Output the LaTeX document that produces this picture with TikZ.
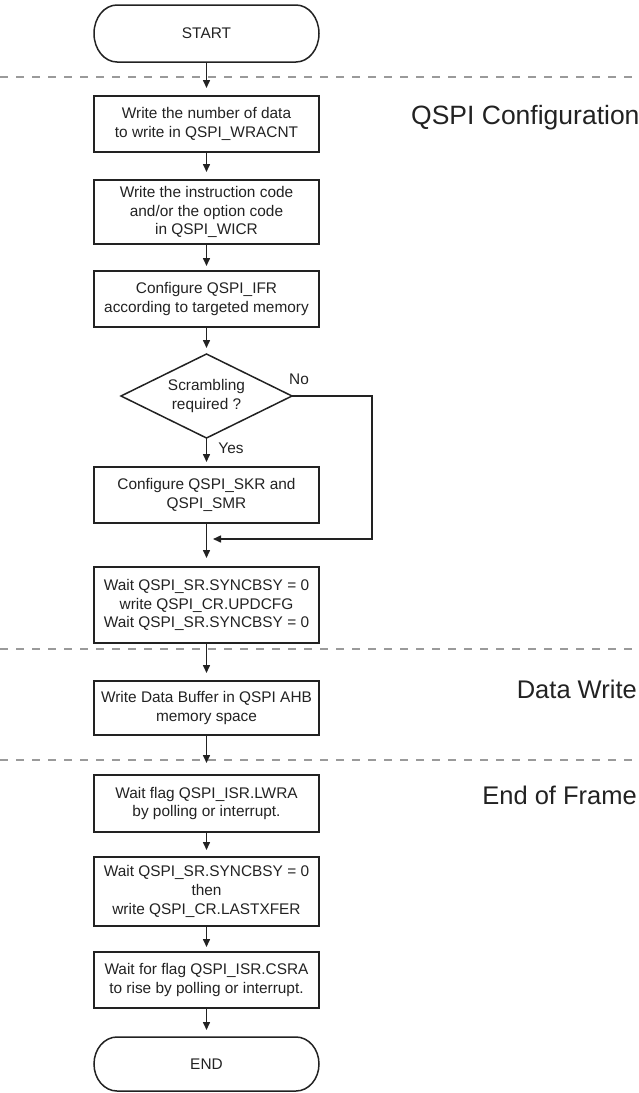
\documentclass[tikz,border=0pt]{standalone}
\usepackage{fontspec}
\setmainfont{Liberation Sans}
\usetikzlibrary{arrows.meta,shapes.geometric}
\definecolor{ink}{HTML}{222222}
\definecolor{sep}{HTML}{9A9A9A}
\tikzset{
  boxnode/.style={draw=ink, line width=1.5pt, minimum width=225pt, inner sep=0pt, outer sep=0pt,
    align=center, text=ink, font=\fontsize{15.4}{18.8}\selectfont},
  termnode/.style={minimum width=225pt, inner sep=0pt, outer sep=0pt, text=ink,
    font=\fontsize{15.4}{18.8}\selectfont},
  termline/.style={draw=ink, line width=1.5pt},
  decnode/.style={draw=ink, line width=1.5pt, shape=diamond, aspect=2.04, minimum width=171pt,
    minimum height=84pt, inner sep=0pt, outer sep=0pt, align=center, text=ink,
    font=\fontsize{15.4}{18.8}\selectfont},
  flow/.style={draw=ink, line width=1.5pt, -{Triangle[length=8pt,width=7pt]}, shorten >=6pt},
  sepline/.style={draw=sep, line width=1.8pt, dash pattern=on 8pt off 8pt},
  lbl/.style={text=ink, font=\fontsize{15.4}{18.8}\selectfont, inner sep=0pt},
  phase/.style={text=ink, font=\fontsize{25.5}{30}\selectfont, inner sep=0pt, anchor=east},
}
\begin{document}
\begin{tikzpicture}[x=1pt, y=-1pt]
\useasboundingbox (0,0) rectangle (639,1093);
% separators
\coordinate (s1l) at (0,77);   \coordinate (s1r) at (639,77);
\coordinate (s2l) at (0,649);  \coordinate (s2r) at (639,649);
\coordinate (s3l) at (0,760);  \coordinate (s3r) at (639,760);
\draw[sepline] (s1l) -- (s1r);
\draw[sepline] (s2l) -- (s2r);
\draw[sepline] (s3l) -- (s3r);
% phase labels
\node[phase, anchor=west, font=\fontsize{26.5}{30}\selectfont] (p1) at (411,117.5) {QSPI Configuration};
\node[phase] (p2) at (637,689) {Data Write};
\node[phase] (p3) at (637,795) {End of Frame};
% start
\node[termnode, minimum height=57pt] (start) at (206.5,33.5) {START};
\draw[termline] ([xshift=23pt]start.north west) -- ([xshift=-23pt]start.north east)
  arc[start angle=90, end angle=-90, x radius=23pt, y radius=28.5pt]
  -- ([xshift=23pt]start.south west)
  arc[start angle=270, end angle=90, x radius=23pt, y radius=28.5pt] -- cycle;
% boxes
\node[boxnode, minimum height=56pt] (b1) at (206.5,124) {Write the number of data\\to write in QSPI\_WRACNT};
\node[boxnode, minimum height=64pt] (b2) at (206.5,212) {Write the instruction code\\and/or the option code\\in QSPI\_WICR};
\node[boxnode, minimum height=56pt] (b3) at (206.5,299) {Configure QSPI\_IFR\\according to targeted memory};
\node[decnode] (d) at (206.5,396) {Scrambling\\required ?};
\node[boxnode, minimum height=56pt] (b4) at (206.5,495) {Configure QSPI\_SKR and\\QSPI\_SMR};
\node[boxnode, minimum height=76pt] (b5) at (206.5,605) {Wait QSPI\_SR.SYNCBSY = 0\\write QSPI\_CR.UPDCFG\\Wait QSPI\_SR.SYNCBSY = 0};
\node[boxnode, minimum height=54pt] (b6) at (206.5,708) {Write Data Buffer in QSPI AHB\\memory space};
\node[boxnode, minimum height=57pt] (b7) at (206.5,803.5) {Wait flag QSPI\_ISR.LWRA\\by polling or interrupt.};
\node[boxnode, minimum height=69pt] (b8) at (206.5,891.5) {Wait QSPI\_SR.SYNCBSY = 0\\then\\write QSPI\_CR.LASTXFER};
\node[boxnode, minimum height=56pt] (b9) at (206.5,980) {Wait for flag QSPI\_ISR.CSRA\\to rise by polling or interrupt.};
% end
\node[termnode, minimum height=54pt] (end) at (206.5,1064) {END};
\draw[termline] ([xshift=23pt]end.north west) -- ([xshift=-23pt]end.north east)
  arc[start angle=90, end angle=-90, x radius=23pt, y radius=27pt]
  -- ([xshift=23pt]end.south west)
  arc[start angle=270, end angle=90, x radius=23pt, y radius=27pt] -- cycle;
% labels
\node[lbl] (no) at (299,379) {No};
\node[lbl] (yes) at (231,448) {Yes};
% connectors
\coordinate (m) at (206.5,539);
\coordinate (r1) at (372,396);
\coordinate (r2) at (372,539);
\draw[flow, shorten >=8pt] (start) -- (b1);
\draw[flow, shorten >=8pt] (b1) -- (b2);
\draw[flow, shorten >=5pt] (b2) -- (b3);
\draw[flow] (b3) -- (d);
\draw[flow, shorten >=5pt] (d) -- (b4);
\draw[flow, shorten >=9pt] (b4) -- (b5);
\draw[flow, shorten >=6.5pt] (d.east) -- (r1) -- (r2) -- (m);
\draw[flow, shorten >=8pt] (b5) -- (b6);
\draw[flow, shorten >=12pt] (b6) -- (b7);
\draw[flow, shorten >=7pt] (b7) -- (b8);
\draw[flow, shorten >=5pt] (b8) -- (b9);
\draw[flow, shorten >=7pt] (b9) -- (end);
\end{tikzpicture}
\end{document}
